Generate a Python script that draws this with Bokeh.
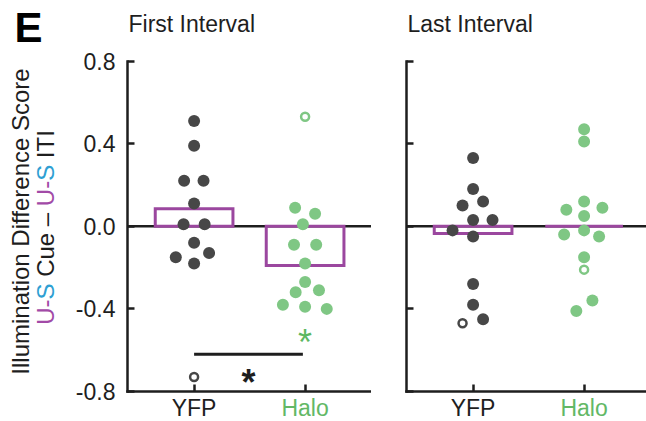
import math
from bokeh.plotting import figure
from bokeh.layouts import row
from bokeh.models import Range1d, FixedTicker, NumeralTickFormatter, CustomJSTickFormatter
from bokeh.core.properties import value
from bokeh.embed import file_html
from bokeh.resources import INLINE

# ---------------- data ----------------
categories = ["YFP", "Halo"]
cat_pos = [1, 2]

# First interval
yfp_first = [0.51, 0.39, 0.22, 0.22, 0.11, 0.01, 0.01, -0.08, -0.15, -0.13, -0.18]
yfp_first_dx = [0, 0, -0.09, 0.085, 0, -0.095, 0.095, 0, -0.165, 0.135, 0]
halo_first = [0.09, 0.06, 0.01, -0.09, -0.09, -0.18, -0.27, -0.32, -0.31, -0.38, -0.39, -0.40]
halo_first_dx = [-0.09, 0.09, -0.02, -0.10, 0.10, 0, 0, -0.085, 0.125, -0.20, 0, 0.195]
yfp_first_out = [-0.73]
yfp_first_out_dx = [0]
halo_first_out = [0.53]
halo_first_out_dx = [0]
bar_first = [0.085, -0.19]

# Last interval
yfp_last = [0.33, 0.18, 0.10, 0.12, 0.03, 0.03, -0.02, -0.05, -0.28, -0.38, -0.45]
yfp_last_dx = [0, 0, -0.095, 0.09, 0, 0.175, -0.185, 0, 0, 0, 0.09]
halo_last = [0.47, 0.41, 0.12, 0.08, 0.09, 0.05, -0.04, -0.02, -0.05, -0.15, -0.36, -0.41]
halo_last_dx = [0, 0, 0, -0.16, 0.165, 0, -0.18, 0, 0.135, 0, 0.075, -0.07]
yfp_last_out = [-0.47]
yfp_last_out_dx = [-0.095]
halo_last_out = [-0.21]
halo_last_out_dx = [0]
bar_last = [-0.035, 0.0]

# significance annotations (first interval)
sig_bar_y = -0.62
sig_bar_x = [1.0, 1.98]
sig_between_x = 1.49
sig_between_y = -0.725
sig_halo_y = -0.53

y_ticks = [-0.8, -0.4, 0.0, 0.4, 0.8]
Y_MIN, Y_MAX = -0.8, 0.8
X_AXIS_AT = 0.4

# ---------------- style ----------------
FONT = "Liberation Sans"
INK = "#1e1e1e"
DARK = "#474747"
GREEN = "#7fc784"
GREEN_TXT = "#62b866"
PURPLE = "#9b479f"
LBL_PURPLE = "#a24aa7"
LBL_BLUE = "#2f9fd3"
FS_PX = 23
FS = f"{FS_PX}px"
BL = 0.4   # empirical baseline correction of the svg text renderer (in em)

H = 421
PXU = 111.0            # px per category unit
PYU = 330.5 / 1.6      # px per y unit
Y_TOP_PX = 60.5        # canvas px of y = 0.8
YT = Y_MAX + Y_TOP_PX / PYU
YB = YT - H / PYU

L_W, L_AXIS_PX = 371, 127
R_W, R_AXIS_PX = 275, 35


class Geo:
    def __init__(self, w, axis_px):
        self.w = w
        self.axis_px = axis_px
        self.x0 = X_AXIS_AT - axis_px / PXU
        self.x1 = self.x0 + w / PXU

    def xd(self, cx):
        return self.x0 + cx / PXU

    def yd(self, cy):
        return YT - cy / PYU


def make_fig(g, title, show_ylabels):
    p = figure(width=g.w, height=H, x_range=Range1d(g.x0, g.x1), y_range=Range1d(YB, YT),
               output_backend="svg", toolbar_location=None, min_border=0)
    p.outline_line_color = None
    p.grid.visible = False
    p.title.visible = False
    p.background_fill_color = "white"
    p.border_fill_color = "white"
    for ax in (p.xaxis[0], p.yaxis[0]):
        ax.axis_line_width = 2.5
        ax.axis_line_color = INK
        ax.axis_line_cap = "square"
        ax.major_tick_in = 7
        ax.major_tick_out = 0
        ax.major_tick_line_width = 2.5
        ax.major_tick_line_color = INK
        ax.minor_tick_line_color = None
        ax.major_label_text_font = FONT
        ax.major_label_text_font_size = FS
        ax.major_label_text_color = INK
    p.xaxis.fixed_location = Y_MIN
    p.xaxis.bounds = (X_AXIS_AT, g.x1)
    p.xaxis.ticker = FixedTicker(ticks=cat_pos)
    p.xaxis.formatter = CustomJSTickFormatter(code="return ''")
    p.yaxis.fixed_location = X_AXIS_AT
    p.yaxis.bounds = (Y_MIN, Y_MAX)
    p.yaxis.ticker = FixedTicker(ticks=y_ticks)
    p.yaxis.major_label_standoff = 12
    if show_ylabels:
        p.yaxis.formatter = NumeralTickFormatter(format="0.0")
    else:
        p.yaxis.formatter = CustomJSTickFormatter(code="return ''")
    # zero reference line
    p.segment(x0=[X_AXIS_AT], x1=[g.x1], y0=[0], y1=[0], line_color=INK, line_width=2.5)
    # panel title
    p.text(x=[g.xd(g.axis_px + 1)], y=[g.yd(33 - BL * FS_PX)], text=[title],
           text_align="left", text_baseline="alphabetic", text_font=value(FONT),
           text_font_size=FS, text_color=INK)
    # category labels
    p.text(x=cat_pos, y=[g.yd(417 - BL * FS_PX)] * 2, text=categories, text_align="center",
           text_baseline="alphabetic", text_font=value(FONT), text_font_size=FS,
           text_color=[INK, GREEN_TXT])
    return p


def draw(p, yfp, yfp_dx, halo, halo_dx, yfp_o, yfp_o_dx, halo_o, halo_o_dx, bars):
    p.vbar(x=cat_pos, width=0.7, top=bars, bottom=0, fill_color=None,
           line_color=PURPLE, line_width=3, line_join="miter")
    p.scatter([cat_pos[0] + d for d in yfp_dx], yfp, size=12, fill_color=DARK, line_color=None)
    p.scatter([cat_pos[1] + d for d in halo_dx], halo, size=12, fill_color=GREEN, line_color=None)
    p.scatter([cat_pos[0] + d for d in yfp_o_dx], yfp_o, size=8, fill_color="white",
              line_color=DARK, line_width=2.5)
    p.scatter([cat_pos[1] + d for d in halo_o_dx], halo_o, size=8, fill_color="white",
              line_color=GREEN, line_width=2.5)


gl = Geo(L_W, L_AXIS_PX)
gr = Geo(R_W, R_AXIS_PX)

p1 = make_fig(gl, "First Interval", True)
draw(p1, yfp_first, yfp_first_dx, halo_first, halo_first_dx,
     yfp_first_out, yfp_first_out_dx, halo_first_out, halo_first_out_dx, bar_first)
p1.line(sig_bar_x, [sig_bar_y, sig_bar_y], line_color=INK, line_width=3)
p1.text(x=[sig_between_x], y=[sig_between_y], text=["*"], text_align="center",
        text_baseline="alphabetic", y_offset=6, text_font=value(FONT), text_font_size="36px",
        text_font_style="bold", text_color=INK)
p1.text(x=[cat_pos[1]], y=[sig_halo_y], text=["*"], text_align="center",
        text_baseline="alphabetic", y_offset=7, text_font=value(FONT), text_font_size="36px",
        text_color="#5db862")

p2 = make_fig(gr, "Last Interval", False)
draw(p2, yfp_last, yfp_last_dx, halo_last, halo_last_dx,
     yfp_last_out, yfp_last_out_dx, halo_last_out, halo_last_out_dx, bar_last)

# ---------------- panel letter and y-axis title (left figure) ----------------
E_FS = 42
p1.text(x=[gl.xd(14)], y=[gl.yd(44 - BL * E_FS)], text=["E"], text_baseline="alphabetic",
        text_font=value(FONT), text_font_size=f"{E_FS}px", text_font_style="bold",
        text_color="black")

LBL_FS = 24
p1.text(x=[gl.xd(30 - BL * LBL_FS)], y=[gl.yd(221)], text=["Illumination Difference Score"],
        angle=math.pi / 2, text_align="center", text_baseline="alphabetic",
        text_font=value(FONT), text_font_size=f"{LBL_FS}px", text_color=INK)

ADV = {"U": 722, "-": 333, "S": 667, " ": 278, "C": 722, "u": 556, "e": 556, "\u2013": 556,
       "I": 278, "T": 611}
# (text, colour); spaces only advance the pen, they are not drawn as separate glyph texts
pieces = [("U-", LBL_PURPLE), ("S", LBL_BLUE), (" Cue \u2013 ", INK), ("U-", LBL_PURPLE),
          ("S", LBL_BLUE), (" ITI", INK)]


def adv(t):
    return sum(ADV[ch] for ch in t) / 1000 * LBL_FS


cy = 227 + sum(adv(t) for t, _ in pieces) / 2
xs, ys, txt, cols = [], [], [], []
for t, col in pieces:
    lead = len(t) - len(t.lstrip(" "))
    start = cy - adv(" " * lead)
    xs.append(gl.xd(55 - BL * LBL_FS))
    ys.append(gl.yd(start))
    txt.append(t.strip(" "))
    cols.append(col)
    cy -= adv(t)
p1.text(x=xs, y=ys, text=txt, angle=math.pi / 2, text_align="left", text_baseline="alphabetic",
        text_font=value(FONT), text_font_size=f"{LBL_FS}px", text_color=cols)

layout = row(p1, p2)
open("out.html", "w").write(file_html(layout, INLINE))
